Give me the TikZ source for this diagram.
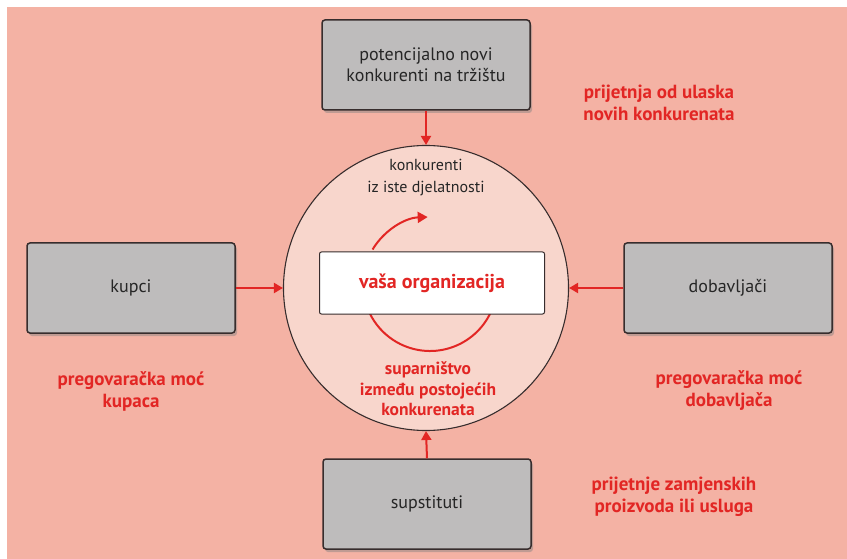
\documentclass[tikz,border=0pt]{standalone}
\usepackage{fontspec}
\setmainfont{PT Sans}
\usetikzlibrary{arrows.meta,shadows}
\definecolor{bgpink}{RGB}{244,178,164}
\definecolor{circpink}{RGB}{248,214,204}
\definecolor{boxgrey}{RGB}{190,188,188}
\definecolor{redtxt}{RGB}{226,38,36}
\definecolor{darkline}{RGB}{55,45,45}
\tikzset{
  forcebox/.style={draw=darkline, line width=1.5pt, fill=boxgrey, rounded corners=3pt,
    minimum width=208pt, minimum height=90pt, align=center, font=\fontsize{18}{21}\selectfont,
    text=black!85, drop shadow={shadow xshift=2pt, shadow yshift=-3pt, opacity=0.45}},
  redlabel/.style={align=center, text=redtxt, font=\bfseries\fontsize{19}{22}\selectfont},
  forcearrow/.style={draw=redtxt, line width=2pt, -{Triangle[length=9pt,width=10pt]}},
  orgbox/.style={draw=darkline, line width=1pt, fill=white, rounded corners=2pt,
    minimum width=225pt, minimum height=62pt, text=redtxt, font=\bfseries\fontsize{20}{24}\selectfont}
}
\begin{document}
\begin{tikzpicture}[x=1pt,y=-1pt]
\useasboundingbox (0,0) rectangle (847,559);
\fill[white] (0,0) rectangle (847,559);
\fill[bgpink] (7,7) rectangle (847,559);

% central circle
\node[circle, draw=darkline, line width=1.1pt, fill=circpink, minimum size=285pt] (circ) at (426,288) {};

\node[align=center, font=\fontsize{16}{22}\selectfont, text=black!85] (same) at (426,178) {konkurenti\\iz iste djelatnosti};

% rivalry loop (angles mirrored because the y axis points down)
\coordinate (loopc) at (430,284);
\draw[draw=redtxt, line width=2pt, -{Triangle[length=10pt,width=11pt]}] ([shift={(211:67)}]loopc) arc[start angle=211, end angle=268, radius=67];
\draw[draw=redtxt, line width=2pt] ([shift={(15:67)}]loopc) arc[start angle=15, end angle=165, radius=67];

\node[orgbox] (org) at (432,283) {vaša organizacija};

\node[redlabel, font=\bfseries\fontsize{17.5}{20.5}\selectfont] (rival) at (428,389) {suparništvo\\između postojećih\\konkurenata};

% outer boxes
\node[forcebox] (top) at (426,65) {potencijalno novi\\konkurenti na tržištu};
\node[forcebox] (left) at (131,288) {kupci};
\node[forcebox] (right) at (728,288) {dobavljači};
\node[forcebox] (bottom) at (427,504) {supstituti};

% arrows
\draw[forcearrow] (top.south) -- (circ.north);
\draw[forcearrow] (left.east) -- (circ.west);
\draw[forcearrow] (right.west) -- (circ.east);
\draw[forcearrow] (bottom.north) -- (circ.south);

% red labels
\node[redlabel] (lnew) at (659,103) {prijetnja od ulaska\\novih konkurenata};
\node[redlabel] (lbuy) at (131,391) {pregovaračka moć\\kupaca};
\node[redlabel] (lsup) at (729,391) {pregovaračka moć\\dobavljača};
\node[redlabel] (lsub) at (674,497) {prijetnje zamjenskih\\proizvoda ili usluga};
\end{tikzpicture}
\end{document}
